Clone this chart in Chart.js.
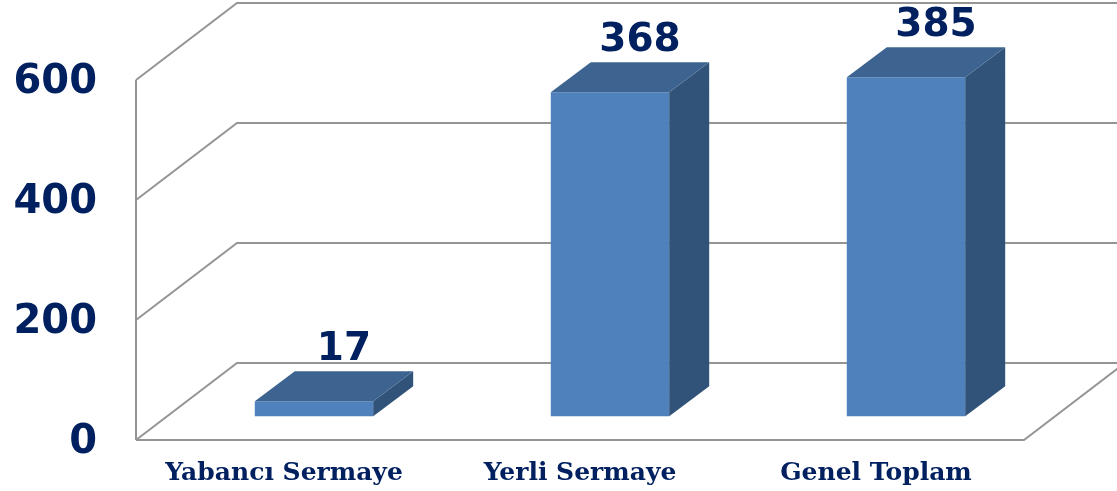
<!DOCTYPE html>
<html>
<head>
<meta charset="utf-8">
<script src="https://cdn.jsdelivr.net/npm/chart.js@4/dist/chart.umd.min.js"></script>
<style>
  html, body { margin: 0; padding: 0; background: #fff; overflow: hidden; }
  canvas { display: block; }
</style>
</head>
<body>
<canvas id="chart" width="1117" height="491"></canvas>
<script>
// chart data
const categories = ["Yabancı Sermaye", "Yerli Sermaye", "Genel Toplam"];
const values = [17, 368, 385];
const axisTicks = [0, 200, 400, 600];

const navy = "#002060";
const wallDepth = { dx: 101, dy: -77 };
const barDepth = { dx: 40, dy: -30 };
const barShift = 30; // bars sit a bit back inside the box

// draws the 3d box (left wall, back wall gridlines, floor)
const wallsPlugin = {
    id: "walls",
    beforeDatasetsDraw(chart) {
        const ctx = chart.ctx;
        const area = chart.chartArea;
        const y = chart.scales.y;
        ctx.save();
        ctx.strokeStyle = "#959595";
        ctx.lineWidth = 2;
        ctx.beginPath();
        ctx.moveTo(area.left, area.top);
        ctx.lineTo(area.left, area.bottom);
        axisTicks.forEach(v => {
            const py = y.getPixelForValue(v);
            ctx.moveTo(area.left, py);
            ctx.lineTo(area.left + wallDepth.dx, py + wallDepth.dy);
            ctx.lineTo(chart.width + 5, py + wallDepth.dy);
        });
        // floor front edge
        ctx.moveTo(area.left, area.bottom);
        ctx.lineTo(area.right, area.bottom);
        ctx.lineTo(area.right + wallDepth.dx, area.bottom + wallDepth.dy);
        ctx.stroke();
        ctx.restore();

        // shift the bars back into the box
        ctx.save();
        ctx.translate(barShift, 0);
    },
    afterDatasetsDraw(chart) {
        const ctx = chart.ctx;
        const bars = chart.getDatasetMeta(0).data;
        bars.forEach((bar, i) => {
            const x0 = bar.x - bar.width / 2;
            const x1 = bar.x + bar.width / 2;
            const top = bar.y;
            const bottom = bar.base;
            // side face
            ctx.fillStyle = "#325379";
            ctx.beginPath();
            ctx.moveTo(x1, top);
            ctx.lineTo(x1 + barDepth.dx, top + barDepth.dy);
            ctx.lineTo(x1 + barDepth.dx, bottom + barDepth.dy);
            ctx.lineTo(x1, bottom);
            ctx.closePath();
            ctx.fill();
            // top face
            ctx.fillStyle = "#3d6490";
            ctx.beginPath();
            ctx.moveTo(x0, top);
            ctx.lineTo(x1, top);
            ctx.lineTo(x1 + barDepth.dx, top + barDepth.dy);
            ctx.lineTo(x0 + barDepth.dx, top + barDepth.dy);
            ctx.closePath();
            ctx.fill();
            // value label
            ctx.fillStyle = navy;
            ctx.font = "bold 39px 'DejaVu Sans'";
            ctx.textAlign = "center";
            ctx.textBaseline = "alphabetic";
            ctx.fillText(String(values[i]), bar.x + 30, top - 41);
        });
        ctx.restore();
    }
};

new Chart(document.getElementById("chart"), {
    type: "bar",
    data: {
        labels: categories,
        datasets: [{
            data: values,
            backgroundColor: "#4f81bd",
            borderWidth: 0,
            yAxisID: "yb",
            categoryPercentage: 1,
            barPercentage: 0.4,
            clip: false
        }]
    },
    options: {
        responsive: false,
        animation: false,
        layout: { padding: { left: 0, right: 93, top: 80, bottom: 0 } },
        plugins: {
            legend: { display: false },
            tooltip: { enabled: false }
        },
        scales: {
            x: {
                grid: { display: false },
                border: { display: false },
                ticks: {
                    color: navy,
                    padding: 10,
                    maxRotation: 0,
                    font: { family: "'DejaVu Serif'", size: 25, weight: "bold" }
                },
                afterFit(s) { s.height = 51; }
            },
            y: {
                min: 0,
                max: 600,
                grid: { display: false },
                border: { display: false },
                afterBuildTicks(s) { s.ticks = axisTicks.map(v => ({ value: v })); },
                ticks: {
                    color: navy,
                    padding: 31,
                    labelOffset: 3,
                    font: { family: "'DejaVu Sans'", size: 40, weight: "bold" }
                },
                afterFit(s) {
                    s.width = 136;
                    s.paddingTop = 0;
                    s.paddingBottom = 0;
                }
            },
            // bars use their own hidden scale to follow the 3d depth
            yb: {
                display: false,
                min: -27,
                max: 382
            }
        }
    },
    plugins: [wallsPlugin]
});
</script>
</body>
</html>
